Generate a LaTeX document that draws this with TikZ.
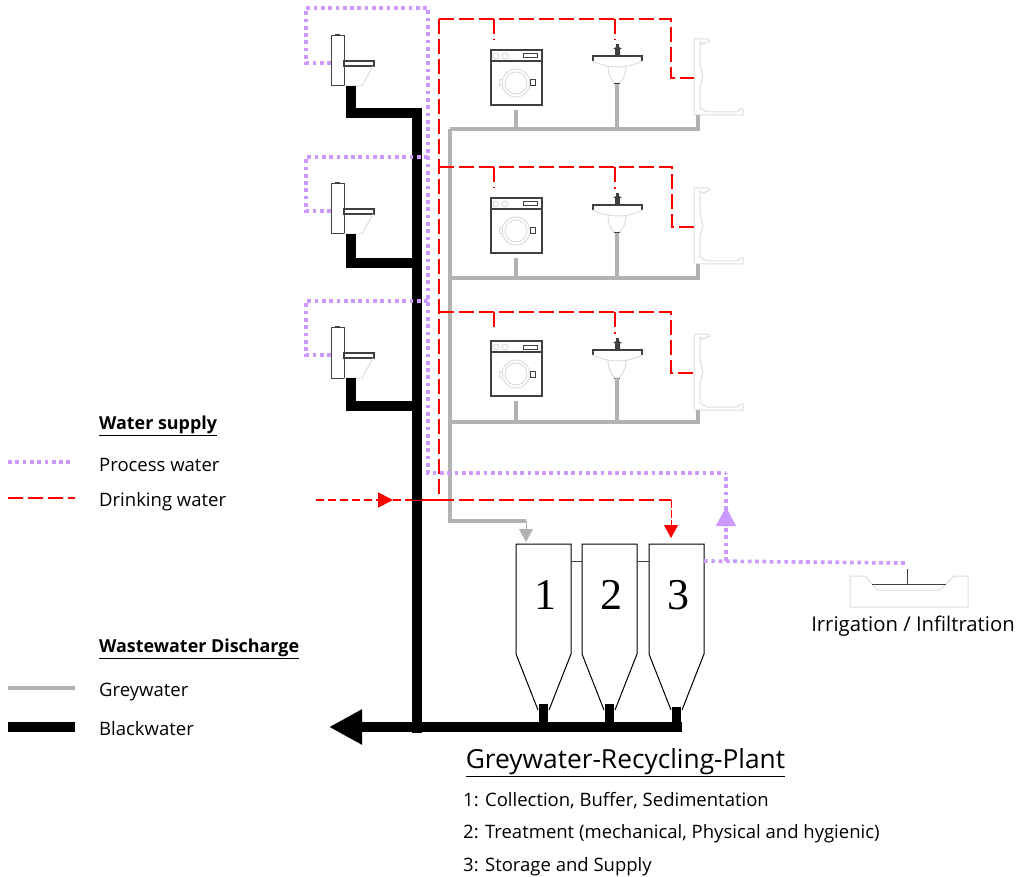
\documentclass[tikz,border=0pt]{standalone}
\usepackage{fontspec}
\setmainfont{Open Sans}
\newfontfamily\numfont{Liberation Serif}
\usetikzlibrary{arrows.meta}
\definecolor{processcol}{HTML}{CC99FF}
\definecolor{greycol}{HTML}{B2B2B2}
\definecolor{darkcol}{HTML}{404040}
\definecolor{lightcol}{HTML}{DCDCDC}

\begin{document}
\begin{tikzpicture}
	[
	  x=1pt, y=-1pt,
	  process/.style={processcol, line width=3.7pt, dash pattern=on 3.7pt off 3.6pt},
	  drinking/.style={red, line width=1.8pt, dash pattern=on 15pt off 5pt},
	  feed/.style={red, line width=1.8pt, dash pattern=on 8pt off 4pt},
	  grey pipe/.style={greycol, line width=4pt},
	  black pipe/.style={black, line width=10pt},
	  dark/.style={darkcol, line width=1pt},
	  light/.style={lightcol, line width=1pt},
	  caption/.style={anchor=west, font=\fontsize{18.5}{20}\selectfont, inner sep=0pt},
	  heading/.style={caption, font=\bfseries\fontsize{17.9}{20}\selectfont},
	  washer/.pic={
	    \draw [dark, line width=1.2pt] (0,0) rectangle (51,55) (0,11) -- (51,11);
	    \draw [dark] (32,4) rectangle (46,8);
	    \draw [light] (5,6) circle (3) (14,6) circle (3);
	    \draw [light] (25,33) circle (14) (25,33) circle (11);
	    \draw [light] (8,30) rectangle (11,36);
	    \draw [dark] (39,30) rectangle (44,36);
	    \coordinate (-inlet) at (3,-10);
	    \coordinate (-drain) at (25,60);
	  },
	  basin/.pic={
	    \draw [dark, line width=1.2pt] (0,5) -- (0,0) -- (49,0) -- (49,5);
	    \draw [light] (0,5) .. controls (15,13) and (34,13) .. (49,5);
	    \draw [light] (15,10) .. controls (15,20) and (20,28) .. (24,28)
	      .. controls (28,28) and (33,20) .. (33,10);
	    \fill [darkcol] (22,-1) rectangle (27,-7) (20,-7) -- (29,-7) -- (26,-9) -- (23,-9) -- cycle;
	    \fill [darkcol] (23,-9) rectangle (26,-12);
	    \draw [dark] (21,28) -- (27,28);
	    \coordinate (-inlet) at (22,-16);
	    \coordinate (-drain) at (24,28);
	  },
	  toilet/.pic={
	    \draw [dark] (0,0) rectangle (13,50);
	    \fill [darkcol] (4,-2) rectangle (9,0);
	    \draw [dark, line width=1.2pt] (13,25) rectangle (43,30);
	    \draw [light] (13,50) -- (31,50) -- (42,30);
	    \coordinate (-inlet) at (0,27);
	    \coordinate (-drain) at (20,50);
	  },
	  shower/.pic={
	    \draw [light] (0,0) -- (14,0) -- (16,2) -- (9,5) -- (6,3) -- (6,26) -- (9,38) -- (6,48)
	      -- (6,69) -- (13,73) -- (43,73) -- (47,70) -- (49,70) -- (49,76) -- (0,76) -- cycle;
	    \coordinate (-inlet) at (0,39);
	    \coordinate (-drain) at (4,76);
	  },
	  silo/.pic={
	    \draw [black, line width=1pt] (0,110) -- (0,0) -- (55,0) -- (55,110) -- (33,166) (0,110) -- (22,166);
	    \node (-number) at (29,51) [font=\numfont\fontsize{44}{44}\selectfont] {\tikzpictext};
	    \coordinate (-left) at (0,17);
	    \coordinate (-right) at (55,17);
	    \coordinate (-in) at (10,-2);
	    \coordinate (-out) at (27.5,160);
	  },
	]
	\path [use as bounding box] (0,0) rectangle (1020,877);
	\pic (toilet1) at (331,36) {toilet};
	\pic (toilet2) at (331,184) {toilet};
	\pic (toilet3) at (331,328) {toilet};
	\pic (washer1) at (491,50) {washer};
	\pic (washer2) at (491,198) {washer};
	\pic (washer3) at (491,341) {washer};
	\pic (basin1) at (593,56) {basin};
	\pic (basin2) at (593,205) {basin};
	\pic (basin3) at (593,350) {basin};
	\pic (shower1) at (694,39) {shower};
	\pic (shower2) at (694,188) {shower};
	\pic (shower3) at (694,334) {shower};
	\pic (silo1) [pic text=1] at (516,544) {silo};
	\pic (silo2) [pic text=2] at (582,544) {silo};
	\pic (silo3) [pic text=3] at (649,544) {silo};
	\coordinate (greyriser) at (450,521);
	\coordinate (grey1) at (450,129);
	\coordinate (grey2) at (450,278);
	\coordinate (grey3) at (450,422);
	\coordinate (greyfoot) at (526,521);
	\draw [grey pipe] (washer1-drain) -- (washer1-drain |- grey1) (basin1-drain) -- (basin1-drain |- grey1);
	\draw [grey pipe] (grey1) -- (shower1-drain |- grey1) -- (shower1-drain);
	\draw [grey pipe] (grey2) -- (shower2-drain |- grey2) -- (shower2-drain);
	\draw [grey pipe] (washer2-drain) -- (washer2-drain |- grey2) (basin2-drain) -- (basin2-drain |- grey2);
	\draw [grey pipe] (grey3) -- (shower3-drain |- grey3) -- (shower3-drain);
	\draw [grey pipe] (washer3-drain) -- (washer3-drain |- grey3) (basin3-drain) -- (basin3-drain |- grey3);
	\draw [grey pipe] (grey1) -- (greyriser) -- (greyfoot);
	\draw [greycol, line width=1pt, -{Triangle[length=13pt,width=14pt]}] (greyfoot) -- (silo1-in);
	\coordinate (soil1) at (417,113);
	\coordinate (soil2) at (417,263);
	\coordinate (soil3) at (417,406);
	\coordinate (soilfoot) at (417,733);
	\coordinate (sewer) at (682,727);
	\coordinate (sewerout) at (360,727);
	\coordinate (sewertip) at (329,727);
	\draw [black pipe] (toilet1-drain) -- (toilet1-drain |- soil1) -- (soil1);
	\draw [black pipe] (toilet2-drain) -- (toilet2-drain |- soil2) -- (soil2);
	\draw [black pipe] (toilet3-drain) -- (toilet3-drain |- soil3) -- (soil3);
	\draw [black pipe] (417,108) -- (soilfoot);
	\draw [black pipe] (sewer) -- (sewerout);
	\draw [black, line width=10pt, -{Triangle[length=33pt,width=33pt]}] (sewerout) -- (sewertip);
	\draw [black pipe, line width=9pt] (silo1-out) -- (silo1-out |- sewer);
	\draw [black pipe, line width=9pt] (silo2-out) -- (silo2-out |- sewer);
	\draw [black pipe, line width=9pt] (676,707) -- (676,727);
	\draw [darkcol, line width=1pt] (silo1-right) -- (silo2-left) (silo2-right) -- (silo3-left);
	\coordinate (red0) at (439,500);
	\coordinate (red1) at (439,19);
	\coordinate (red2) at (439,167);
	\coordinate (red3) at (439,312);
	\coordinate (redturn1) at (671,19);
	\coordinate (redturn2) at (672,167);
	\coordinate (redturn3) at (671,312);
	\coordinate (redend) at (671,500);
	\coordinate (redin) at (316,500);
	\coordinate (redtip) at (393,500);
	\coordinate (soilleft) at (412,500);
	\coordinate (soilright) at (422,500);
	\draw [drinking] (red1) -- (redturn1) -- (redturn1 |- shower1-inlet) -- (shower1-inlet);
	\draw [drinking] (red2) -- (redturn2) -- (redturn2 |- shower2-inlet) -- (shower2-inlet);
	\draw [drinking] (red3) -- (redturn3) -- (redturn3 |- shower3-inlet) -- (shower3-inlet);
	\draw [drinking] (washer1-inlet |- red1) -- (washer1-inlet);
	\draw [drinking] (basin1-inlet |- red1) -- (basin1-inlet);
	\draw [drinking] (washer2-inlet |- red2) -- (washer2-inlet);
	\draw [drinking] (basin2-inlet |- red2) -- (basin2-inlet);
	\draw [drinking] (washer3-inlet |- red3) -- (494,327);
	\draw [drinking] (basin3-inlet |- red3) -- (basin3-inlet);
	\draw [drinking] (red1) -- (red0);
	\draw [feed] (redtip) -- (soilleft);
	\draw [red, line width=1pt] (soilleft) -- (soilright);
	\draw [red, line width=1.8pt] (soilright) -- (red0);
	\draw [drinking] (red0) -- (redend);
	\draw [feed, -{Triangle[length=15pt,width=15pt]}] (redin) -- (redtip);
	\draw [red, line width=1pt, dash pattern=on 8pt off 2pt, -{Triangle[length=13pt,width=14pt]}] (redend) -- (671,538);
	\coordinate (loop1) at (306,8);
	\coordinate (loop2) at (306,157);
	\coordinate (loop3) at (306,301);
	\coordinate (riser) at (428,473);
	\coordinate (riserturn) at (726,473);
	\coordinate (pump) at (726,561);
	\coordinate (swale) at (905,563);
	\draw [process] (toilet1-inlet) -- (loop1 |- toilet1-inlet) -- (loop1) -- (riser |- loop1) -- (riser) -- (riserturn);
	\draw [process] (toilet2-inlet) -- (loop2 |- toilet2-inlet) -- (loop2) -- (riser |- loop2);
	\draw [process] (toilet3-inlet) -- (loop3 |- toilet3-inlet) -- (loop3) -- (riser |- loop3);
	\draw [process] (silo3-right) -- (swale);
	\draw [process] (pump) -- (726,526);
	\draw [process] (726,510) -- (riserturn);
	\draw [processcol, line width=1pt, -{Triangle[length=19pt,width=20pt]}] (726,526) -- (726,507);
	\draw [light] (850,576) -- (865,576) -- (877,590) -- (940,590) -- (954,576) -- (968,576) -- (968,607) -- (850,607) -- cycle;
	\coordinate (swalerim) at (907,584);
	\draw [dark] (872,584) -- (946,584) (swalerim) -- (907,569);
	\node (irrigation) at (913,626) [font=\fontsize{20.3}{22}\selectfont, inner sep=0pt] {Irrigation / Infiltration};
	\node (plant) at (625.5,763) [font=\fontsize{26.3}{28}\selectfont, inner sep=0pt] {\underline{Greywater-Recycling-Plant}};
	\node (step1) at (463,801) [caption] {1: Collection, Buffer, Sedimentation};
	\node (step2) at (463,834) [caption] {2: Treatment (mechanical, Physical and hygienic)};
	\node (step3) at (463,867) [caption] {3: Storage and Supply};
	\node (supply) at (99,426) [heading] {\underline{Water supply}};
	\node (lprocess) at (99,465) [caption] {Process water};
	\node (ldrinking) at (99,502) [caption] {Drinking water};
	\node (discharge) at (99,649) [heading] {\underline{Wastewater Discharge}};
	\node (lgrey) at (99,692) [caption] {Greywater};
	\node (lblack) at (99,729) [caption] {Blackwater};
	\coordinate (kprocess) at (8,462);
	\coordinate (kdrinking) at (8,498);
	\coordinate (kgrey) at (8,688);
	\coordinate (kblack) at (8,727);
	\draw [process] (kprocess) -- (71,462);
	\draw [drinking] (kdrinking) -- (75,498);
	\draw [grey pipe] (kgrey) -- (75,688);
	\draw [black pipe] (kblack) -- (75,727);
\end{tikzpicture}
\end{document}
